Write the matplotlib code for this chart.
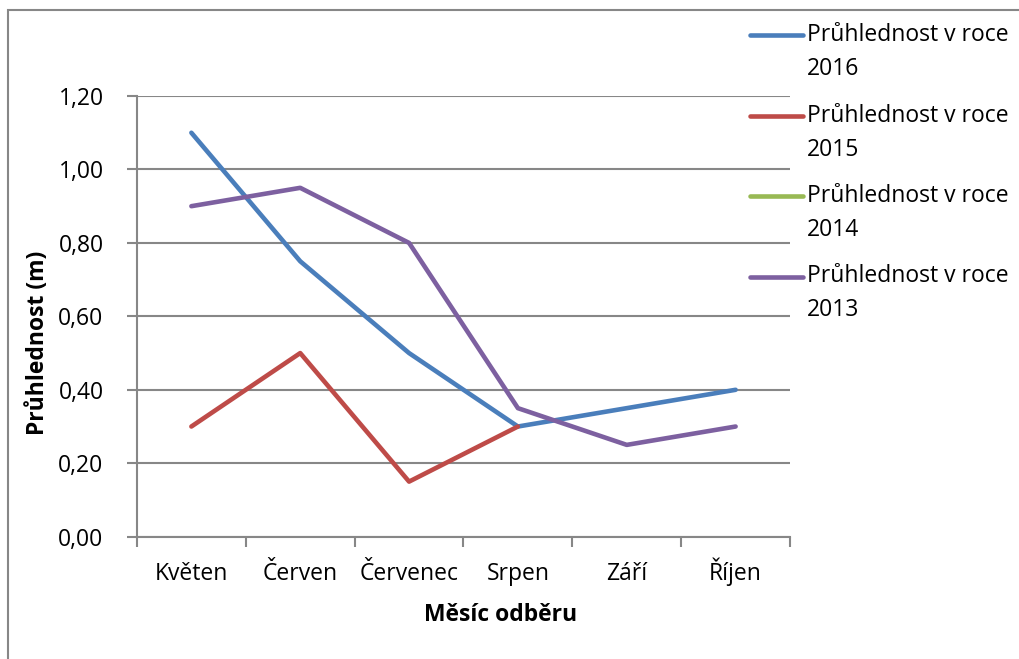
import matplotlib
matplotlib.use('Agg')
import matplotlib.pyplot as plt
from matplotlib.lines import Line2D
from matplotlib.patches import Rectangle
from matplotlib.ticker import FuncFormatter, FixedLocator
import numpy as np

mesice = ['Květen', 'Červen', 'Červenec', 'Srpen', 'Září', 'Říjen']
roky = ['2016', '2015', '2014', '2013']
pruhlednost_2016 = [1.10, 0.75, 0.50, 0.30, 0.35, 0.40]
pruhlednost_2015 = [0.30, 0.50, 0.15, 0.30, None, None]
pruhlednost_2014 = [None, None, None, None, None, None]
pruhlednost_2013 = [0.90, 0.95, 0.80, 0.35, 0.25, 0.30]
barvy = ['#4A7EBB', '#BE4B48', '#98B954', '#7D60A0']

plt.rcParams['font.family'] = ['Open Sans', 'DejaVu Sans']
fs = 16.5
W, H = 1019, 659

fig = plt.figure(figsize=(W / 100, H / 100), dpi=100)
ax = fig.add_axes([0.1344, 0.1856, 0.6409, 0.6687])

x = np.arange(len(mesice))
serie = [pruhlednost_2016, pruhlednost_2015, pruhlednost_2014, pruhlednost_2013]
for hodnoty, barva in zip(serie, barvy):
    y = np.array([np.nan if v is None else v for v in hodnoty], dtype=float)
    ax.plot(x, y, color=barva, lw=3.3, solid_capstyle='round', solid_joinstyle='round')

seda = '#878787'
ax.set_xlim(-0.5, len(mesice) - 0.5)
ax.set_ylim(0, 1.2)
ax.set_yticks(np.arange(0, 1.21, 0.2))
ax.yaxis.set_major_formatter(FuncFormatter(lambda v, p: f'{v:.2f}'.replace('.', ',')))
ax.set_xticks(x)
ax.set_xticklabels(mesice)
# popisky měsíců na společné účaří (Ř má háček navíc)
for lbl in ax.get_xticklabels():
    lbl.set_verticalalignment('baseline')
ax.xaxis.set_minor_locator(FixedLocator(np.arange(-0.5, len(mesice), 1.0)))
ax.tick_params(axis='x', which='major', length=0, pad=31, labelsize=fs)
ax.tick_params(axis='x', which='minor', length=7, width=1.5, color=seda)
ax.tick_params(axis='y', length=7, width=1.5, color=seda, pad=17, labelsize=fs)
ax.grid(axis='y', color=seda, lw=1.5)
ax.set_axisbelow(True)
for s in ['top', 'right']:
    ax.spines[s].set_visible(False)
for s in ['left', 'bottom']:
    ax.spines[s].set_color(seda)
    ax.spines[s].set_linewidth(1.5)

# popisky os (Excel je centruje podle celého grafu)
fig.text(38 / W, 1 - 343 / H, 'Průhlednost (m)', fontsize=fs, fontweight='bold',
         rotation=90, ha='center', va='center')
fig.text(501 / W, 1 - 615 / H, 'Měsíc odběru', fontsize=fs, fontweight='bold',
         ha='center', va='center')

# legenda vpravo nahoře
for i, (rok, barva) in enumerate(zip(roky, barvy)):
    yl = 35 + i * 80.5
    fig.add_artist(Line2D([750 / W, 803 / W], [1 - yl / H, 1 - yl / H],
                          color=barva, lw=3.3, solid_capstyle='round'))
    fig.text(807 / W, 1 - yl / H, 'Průhlednost v roce', fontsize=fs, va='center', ha='left')
    fig.text(807 / W, 1 - (yl + 34) / H, rok, fontsize=fs, va='center', ha='left')

# rámeček grafu
fig.add_artist(Rectangle((8 / W, -0.1), 1.2, 1 - 10 / H + 0.1, transform=fig.transFigure,
                         fill=False, edgecolor=seda, lw=1.5))

fig.savefig('out.png', dpi=100)
